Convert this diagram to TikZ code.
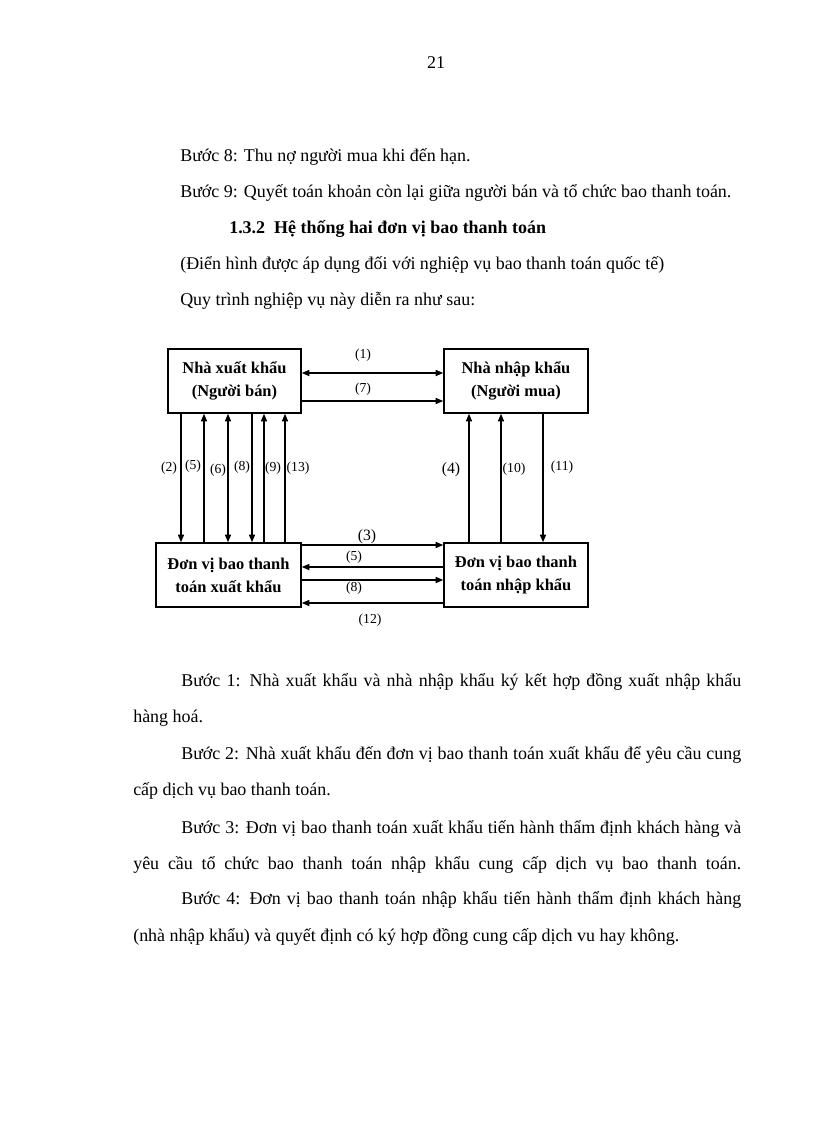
\documentclass[tikz,border=0pt]{standalone}
\usepackage{fontspec}
\setmainfont{Liberation Serif}
\usetikzlibrary{arrows.meta}
\newdimen\pxu \pxu=0.7295pt
\begin{document}
\begin{tikzpicture}[x=0.7295pt,y=-0.7295pt,
  body/.style={inner sep=0pt,font=\fontsize{13.1pt}{16pt}\selectfont},
  box/.style={draw,line width=1.2pt,inner sep=0pt,align=center,
    font=\fontsize{12pt}{16.8pt}\selectfont\bfseries},
  lab/.style={inner sep=0pt,font=\fontsize{10pt}{12pt}\selectfont},
  labb/.style={inner sep=0pt,font=\fontsize{11.5pt}{13pt}\selectfont},
  arr/.style={line width=0.8pt,-{Triangle[length=5.5pt,width=4.5pt]}},
  darr/.style={line width=0.8pt,{Triangle[length=5.5pt,width=4.5pt]}-{Triangle[length=5.5pt,width=4.5pt]}}]
\useasboundingbox (0,0) rectangle (816,1123);
\fill[white] (0,0) rectangle (816,1123);

% page number
\node[body,anchor=base] (pg) at (436,68) {21};

% top text
\node[body,anchor=base west] (t1) at (180,161) {Bước 8: Thu nợ người mua khi đến hạn.};
\node[body,anchor=base west] (t2) at (180,197) {Bước 9: Quyết toán khoản còn lại giữa người bán và tổ chức bao thanh toán.};
\node[body,anchor=base west,font=\fontsize{13.1pt}{16pt}\selectfont\bfseries] (t3) at (229,233) {1.3.2\hspace{9\pxu}Hệ thống hai đơn vị bao thanh toán};
\node[body,anchor=base west] (t4) at (180,269) {(Điển hình được áp dụng đối với nghiệp vụ bao thanh toán quốc tế)};
\node[body,anchor=base west] (t5) at (180,305) {Quy trình nghiệp vụ này diễn ra như sau:};

% boxes
\node[box,minimum width=133\pxu,minimum height=64\pxu] (ex) at (234.5,381) {Nhà xuất khẩu\\(Người bán)};
\node[box,minimum width=144\pxu,minimum height=64\pxu] (im) at (516,381) {Nhà nhập khẩu\\(Người mua)};
\node[box,minimum width=145\pxu,minimum height=64\pxu] (fe) at (228.5,575) {Đơn vị bao thanh\\toán xuất khẩu};
\node[box,minimum width=144\pxu,minimum height=64\pxu] (fi) at (516,575) {Đơn vị bao thanh\\toán nhập khẩu};

% top horizontals
\draw[darr] (ex.east |- 0,373) -- (im.west |- 0,373);
\draw[arr] (ex.east |- 0,401) -- (im.west |- 0,401);
\node[lab] (l1) at (363,355) {(1)};
\node[lab] (l7) at (363,389) {(7)};

% bottom horizontals
\draw[arr] (fe.east |- 0,545) -- (fi.west |- 0,545);
\draw[arr] (fi.west |- 0,567) -- (fe.east |- 0,567);
\draw[arr] (fe.east |- 0,580) -- (fi.west |- 0,580);
\draw[arr] (fi.west |- 0,603) -- (fe.east |- 0,603);
\node[labb] (l3) at (367,537) {(3)};
\node[lab] (l5b) at (354,557) {(5)};
\node[lab] (l8b) at (354,588) {(8)};
\node[lab] (l12) at (370,620) {(12)};

% left verticals
\draw[arr] (ex.south -| 181,0) -- (fe.north -| 181,0);
\draw[arr] (fe.north -| 204,0) -- (ex.south -| 204,0);
\draw[darr] (fe.north -| 228,0) -- (ex.south -| 228,0);
\draw[arr] (ex.south -| 252,0) -- (fe.north -| 252,0);
\draw[arr] (fe.north -| 264,0) -- (ex.south -| 264,0);
\draw[arr] (fe.north -| 285,0) -- (ex.south -| 285,0);
\node[lab] (l2) at (169,468) {(2)};
\node[lab] (l5) at (193,466) {(5)};
\node[lab] (l6) at (218,470) {(6)};
\node[lab] (l8) at (242,467) {(8)};
\node[lab] (l9) at (273,468) {(9)};
\node[lab] (l13) at (298,468) {(13)};

% right verticals
\draw[arr] (fi.north -| 469,0) -- (im.south -| 469,0);
\draw[arr] (fi.north -| 501,0) -- (im.south -| 501,0);
\draw[arr] (im.south -| 543,0) -- (fi.north -| 543,0);
\node[labb] (l4) at (451,470) {(4)};
\node[lab] (l10) at (514,469) {(10)};
\node[lab] (l11) at (562,467) {(11)};

% bottom text
\node[body,anchor=base west] (b1) at (181,686) {\makebox[560\pxu][s]{Bước 1: Nhà xuất khẩu và nhà nhập khẩu ký kết hợp đồng xuất nhập khẩu}};
\node[body,anchor=base west] (b2) at (133,722) {hàng hoá.};
\node[body,anchor=base west] (b3) at (181,759) {\makebox[560\pxu][s]{Bước 2: Nhà xuất khẩu đến đơn vị bao thanh toán xuất khẩu để yêu cầu cung}};
\node[body,anchor=base west] (b4) at (133,795) {cấp dịch vụ bao thanh toán.};
\node[body,anchor=base west] (b5) at (181,833) {\makebox[560\pxu][s]{Bước 3: Đơn vị bao thanh toán xuất khẩu tiến hành thẩm định khách hàng và}};
\node[body,anchor=base west] (b6) at (133,869) {\makebox[608\pxu][s]{yêu cầu tổ chức bao thanh toán nhập khẩu cung cấp dịch vụ bao thanh toán.}};
\node[body,anchor=base west] (b7) at (181,904) {\makebox[560\pxu][s]{Bước 4: Đơn vị bao thanh toán nhập khẩu tiến hành thẩm định khách hàng}};
\node[body,anchor=base west] (b8) at (133,941) {(nhà nhập khẩu) và quyết định có ký hợp đồng cung cấp dịch vu hay không.};
\end{tikzpicture}
\end{document}
